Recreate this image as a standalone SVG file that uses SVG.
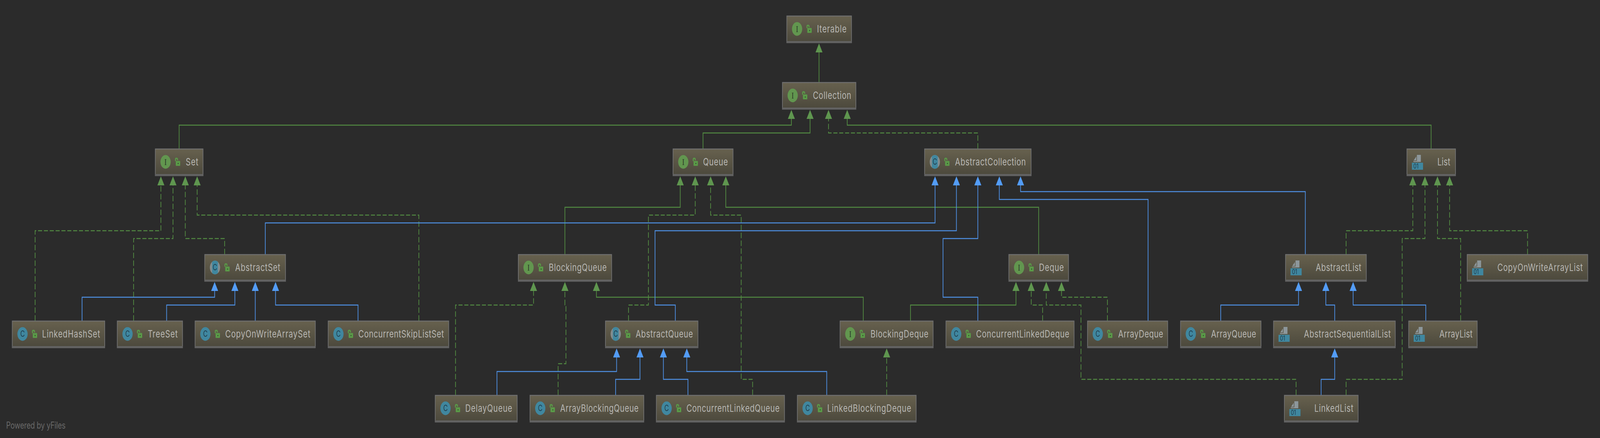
<svg xmlns="http://www.w3.org/2000/svg" xmlns:xlink="http://www.w3.org/1999/xlink" width="5470" height="1120" viewBox="0 0 5470 1120" preserveAspectRatio="none">
<!-- Note: the sizing rule below and preserveAspectRatio="none" fit the root to the window. They have no effect in a 5470x1120 window. They were added because the capture window measured about 4100 wide, which clipped the right side; there the drawing is squeezed horizontally. -->
<style>
svg{width:100vw;height:100vh;display:block}
.box{fill:url(#nodefill);stroke:#6f6f6f;stroke-width:2.5}
.band{fill:#626262}
.t{font-family:Inter,"Liberation Sans",sans-serif;font-size:26px;fill:#b7b6b2}
.g{fill:none;stroke:#528a42;stroke-width:2.4;marker-end:url(#ag)}
.gd{fill:none;stroke:#528a42;stroke-width:2.4;stroke-dasharray:14 6;marker-end:url(#ag)}
.b{fill:none;stroke:#4e90e4;stroke-width:2.4;marker-end:url(#ab)}
.pw{font-family:Inter,"Liberation Sans",sans-serif;font-size:24px;fill:#686868}
.ic{font-family:Inter,"Liberation Sans",sans-serif;font-size:21px;fill:#1f3c4c;text-anchor:middle}
.ii{font-family:"Liberation Serif",serif;font-size:24px;fill:#2c3b27;text-anchor:middle}
.i01{font-family:Inter,"Liberation Sans",sans-serif;font-size:17px;fill:#1f3c4c}
</style>
<defs>
<linearGradient id="nodefill" x1="0" y1="0" x2="0" y2="1"><stop offset="0" stop-color="#67614e"/><stop offset="1" stop-color="#4b483c"/></linearGradient>
<marker id="ag" markerUnits="userSpaceOnUse" viewBox="0 0 23 24" markerWidth="23" markerHeight="24" refX="0" refY="12" orient="auto"><path d="M0 0L23 12L0 24z" fill="#5f964f"/></marker>
<marker id="ab" markerUnits="userSpaceOnUse" viewBox="0 0 23 24" markerWidth="23" markerHeight="24" refX="0" refY="12" orient="auto"><path d="M0 0L23 12L0 24z" fill="#539cf6"/></marker>
<clipPath id="cc"><circle cx="36" cy="34" r="17.5"/></clipPath>
<g id="lock"><path d="M70 32V27.5Q70 25 72.5 25H74Q77 25 77 28V30" fill="none" stroke="#5a9a48" stroke-width="3.4"/><rect x="71" y="31.5" width="15" height="12.5" rx="1.5" fill="#5a9a48"/><circle cx="79" cy="38" r="1.6" fill="#2d3f28"/></g>
<g id="iface"><circle cx="36" cy="34" r="17.5" fill="#62964f"/><text class="ii" x="36" y="42">I</text><use xlink:href="#lock"/></g>
<g id="cls"><circle cx="36" cy="34" r="17.5" fill="#40879f"/><text class="ic" x="36" y="41.5">C</text><use xlink:href="#lock"/></g>
<g id="acls"><circle cx="36" cy="34" r="17.5" fill="#848d8f"/><rect x="26" y="16" width="20" height="36" fill="#40879f" clip-path="url(#cc)"/><text class="ic" x="36" y="41.5">C</text><use xlink:href="#lock"/></g>
<g id="lst"><path d="M24 30L33 20V30zM35 16H48.5V34H23V31.5H35z" fill="#8d979b"/><rect x="18" y="36" width="38" height="18" fill="#40879f"/><text class="i01" x="23" y="51.5">01</text></g>
</defs>
<rect width="5470" height="1120" fill="#2b2b2b"/>
<g id="connectors">
<path class="g" d="M2800 210V134"/>
<path class="g" d="M612.4 380V320H2705.5V304"/>
<path class="g" d="M2403.4 380V340H2769.4V304"/>
<path class="gd" d="M3343 380V340H2832.5V304"/>
<path class="g" d="M4892.6 380V320H2896.4V304"/>
<path class="gd" d="M120 820V590H550V474"/>
<path class="gd" d="M456.7 820V610H591.4V474"/>
<path class="gd" d="M768 650V610H633.5V474"/>
<path class="gd" d="M1432 820V550H674V474"/>
<path class="g" d="M1931.3 650V530H2325.6V474"/>
<path class="gd" d="M2148.8 820V780H2216.8V550H2376.8V474"/>
<path class="gd" d="M2573 1010V970H2534V550H2429.4V474"/>
<path class="g" d="M3551 650V530H2481.3V474"/>
<path class="gd" d="M1557.4 1010V780H1824V744"/>
<path class="gd" d="M1908 1010V930H1934.8V780H1931.3V744"/>
<path class="g" d="M2951.3 820V760H2039V744"/>
<path class="g" d="M3112.7 820V780H3473.3V744"/>
<path class="gd" d="M3031.3 1010V914"/>
<path class="gd" d="M3564.5 820V780H3525.5V744"/>
<path class="gd" d="M4431 1010V970H3695.6V780H3577V744"/>
<path class="gd" d="M3786 820V760H3629V744"/>
<path class="gd" d="M4602 650V590H4830V474"/>
<path class="gd" d="M4602 1010V970H4793.7V610H4871.6V474"/>
<path class="gd" d="M4993.6 820V610H4914.4V474"/>
<path class="gd" d="M5222.3 650V590H4955.8V474"/>
<path class="b" d="M907 650V570H3196.7V474"/>
<path class="b" d="M2308.7 820V780H2239.3V590H3269.8V474"/>
<path class="b" d="M3343 820V760H3224V610H3343V474"/>
<path class="b" d="M3925 820V510H3416.4V474"/>
<path class="b" d="M4462.6 650V490H3489V474"/>
<path class="b" d="M280.6 820V760H733.8V744"/>
<path class="b" d="M569.6 820V780H803V744"/>
<path class="b" d="M872.7 820V744"/>
<path class="b" d="M1224 820V780H942V744"/>
<path class="b" d="M1699 1010V950H2108V914"/>
<path class="b" d="M2104.6 1010V970H2188V914"/>
<path class="b" d="M2352 1010V970H2268V914"/>
<path class="b" d="M2826.4 1010V950H2348V914"/>
<path class="b" d="M4173.4 820V780H4439.4V744"/>
<path class="b" d="M4563 820V780H4532.7V744"/>
<path class="b" d="M4874.4 820V780H4626V744"/>
<path class="b" d="M4516.6 1010V970H4563V914"/>
</g>
<g id="Iterable" transform="translate(2689 40)"><rect class="box" x="1" y="1" width="221" height="68"/><rect class="band" y="65" width="223" height="5"/><use xlink:href="#iface"/><text class="t" x="104" y="43" textLength="101">Iterable</text></g>
<g id="Collection" transform="translate(2674 210)"><rect class="box" x="1" y="1" width="251" height="68"/><rect class="band" y="65" width="253" height="5"/><use xlink:href="#iface"/><text class="t" x="105" y="43" textLength="131">Collection</text></g>
<g id="Set" transform="translate(530 380)"><rect class="box" x="1" y="1" width="163" height="68"/><rect class="band" y="65" width="165" height="5"/><use xlink:href="#iface"/><text class="t" x="105" y="43" textLength="43">Set</text></g>
<g id="Queue" transform="translate(2300 380)"><rect class="box" x="1" y="1" width="205" height="68"/><rect class="band" y="65" width="207" height="5"/><use xlink:href="#iface"/><text class="t" x="103.4" y="43" textLength="85">Queue</text></g>
<g id="AbstractCollection" transform="translate(3160 380)"><rect class="box" x="1" y="1" width="364" height="68"/><rect class="band" y="65" width="366" height="5"/><use xlink:href="#acls"/><text class="t" x="105" y="43" textLength="242">AbstractCollection</text></g>
<g id="List" transform="translate(4809 380)"><rect class="box" x="1" y="1" width="166" height="68"/><rect class="band" y="65" width="168" height="5"/><use xlink:href="#lst"/><text class="t" x="105" y="43" textLength="44">List</text></g>
<g id="AbstractSet" transform="translate(699 650)"><rect class="box" x="1" y="1" width="276" height="68"/><rect class="band" y="65" width="278" height="5"/><use xlink:href="#acls"/><text class="t" x="105" y="43" textLength="154">AbstractSet</text></g>
<g id="BlockingQueue" transform="translate(1771 650)"><rect class="box" x="1" y="1" width="319" height="68"/><rect class="band" y="65" width="321" height="5"/><use xlink:href="#iface"/><text class="t" x="105" y="43" textLength="198">BlockingQueue</text></g>
<g id="Deque" transform="translate(3448 650)"><rect class="box" x="1" y="1" width="204" height="68"/><rect class="band" y="65" width="206" height="5"/><use xlink:href="#iface"/><text class="t" x="104" y="43" textLength="85">Deque</text></g>
<g id="AbstractList" transform="translate(4394 650)"><rect class="box" x="1" y="1" width="276" height="68"/><rect class="band" y="65" width="278" height="5"/><use xlink:href="#lst"/><text class="t" x="104" y="43" textLength="156">AbstractList</text></g>
<g id="CopyOnWriteArrayList" transform="translate(5015 650)"><rect class="box" x="1" y="1" width="412" height="68"/><rect class="band" y="65" width="414" height="5"/><use xlink:href="#lst"/><text class="t" x="104" y="43" textLength="292">CopyOnWriteArrayList</text></g>
<g id="LinkedHashSet" transform="translate(41 820)"><rect class="box" x="1" y="1" width="316" height="68"/><rect class="band" y="65" width="318" height="5"/><use xlink:href="#cls"/><text class="t" x="103" y="43" textLength="198">LinkedHashSet</text></g>
<g id="TreeSet" transform="translate(400 820)"><rect class="box" x="1" y="1" width="223" height="68"/><rect class="band" y="65" width="225" height="5"/><use xlink:href="#cls"/><text class="t" x="105" y="43" textLength="102.5">TreeSet</text></g>
<g id="CopyOnWriteArraySet" transform="translate(666 820)"><rect class="box" x="1" y="1" width="411" height="68"/><rect class="band" y="65" width="413" height="5"/><use xlink:href="#cls"/><text class="t" x="104" y="43" textLength="291">CopyOnWriteArraySet</text></g>
<g id="ConcurrentSkipListSet" transform="translate(1121 820)"><rect class="box" x="1" y="1" width="412" height="68"/><rect class="band" y="65" width="414" height="5"/><use xlink:href="#cls"/><text class="t" x="104" y="43" textLength="292.5">ConcurrentSkipListSet</text></g>
<g id="AbstractQueue" transform="translate(2069 820)"><rect class="box" x="1" y="1" width="316" height="68"/><rect class="band" y="65" width="318" height="5"/><use xlink:href="#acls"/><text class="t" x="104" y="43" textLength="196">AbstractQueue</text></g>
<g id="BlockingDeque" transform="translate(2871 820)"><rect class="box" x="1" y="1" width="318" height="68"/><rect class="band" y="65" width="320" height="5"/><use xlink:href="#iface"/><text class="t" x="105" y="43" textLength="198">BlockingDeque</text></g>
<g id="ConcurrentLinkedDeque" transform="translate(3233 820)"><rect class="box" x="1" y="1" width="438" height="68"/><rect class="band" y="65" width="440" height="5"/><use xlink:href="#cls"/><text class="t" x="104" y="43" textLength="318.5">ConcurrentLinkedDeque</text></g>
<g id="ArrayDeque" transform="translate(3717 820)"><rect class="box" x="1" y="1" width="274" height="68"/><rect class="band" y="65" width="276" height="5"/><use xlink:href="#cls"/><text class="t" x="105.6" y="43" textLength="154">ArrayDeque</text></g>
<g id="ArrayQueue" transform="translate(4035 820)"><rect class="box" x="1" y="1" width="275" height="68"/><rect class="band" y="65" width="277" height="5"/><use xlink:href="#cls"/><text class="t" x="105.4" y="43" textLength="154">ArrayQueue</text></g>
<g id="AbstractSequentialList" transform="translate(4353 820)"><rect class="box" x="1" y="1" width="416" height="68"/><rect class="band" y="65" width="418" height="5"/><use xlink:href="#lst"/><text class="t" x="104.7" y="43" textLength="297">AbstractSequentialList</text></g>
<g id="ArrayList" transform="translate(4815 820)"><rect class="box" x="1" y="1" width="234" height="68"/><rect class="band" y="65" width="236" height="5"/><use xlink:href="#lst"/><text class="t" x="105.7" y="43" textLength="113.6">ArrayList</text></g>
<g id="DelayQueue" transform="translate(1487 1010)"><rect class="box" x="1" y="1" width="280" height="68"/><rect class="band" y="65" width="282" height="5"/><use xlink:href="#cls"/><text class="t" x="103.4" y="43" textLength="160.6">DelayQueue</text></g>
<g id="ArrayBlockingQueue" transform="translate(1811 1010)"><rect class="box" x="1" y="1" width="389" height="68"/><rect class="band" y="65" width="391" height="5"/><use xlink:href="#cls"/><text class="t" x="104" y="43" textLength="268">ArrayBlockingQueue</text></g>
<g id="ConcurrentLinkedQueue" transform="translate(2243 1010)"><rect class="box" x="1" y="1" width="438" height="68"/><rect class="band" y="65" width="440" height="5"/><use xlink:href="#cls"/><text class="t" x="103.6" y="43" textLength="318.4">ConcurrentLinkedQueue</text></g>
<g id="LinkedBlockingDeque" transform="translate(2725 1010)"><rect class="box" x="1" y="1" width="406" height="68"/><rect class="band" y="65" width="408" height="5"/><use xlink:href="#cls"/><text class="t" x="103" y="43" textLength="287">LinkedBlockingDeque</text></g>
<g id="LinkedList" transform="translate(4390 1010)"><rect class="box" x="1" y="1" width="252" height="68"/><rect class="band" y="65" width="254" height="5"/><use xlink:href="#lst"/><text class="t" x="103.5" y="43" textLength="133.3">LinkedList</text></g>
<text class="pw" x="21" y="1096" textLength="203">Powered by yFiles</text>
</svg>
